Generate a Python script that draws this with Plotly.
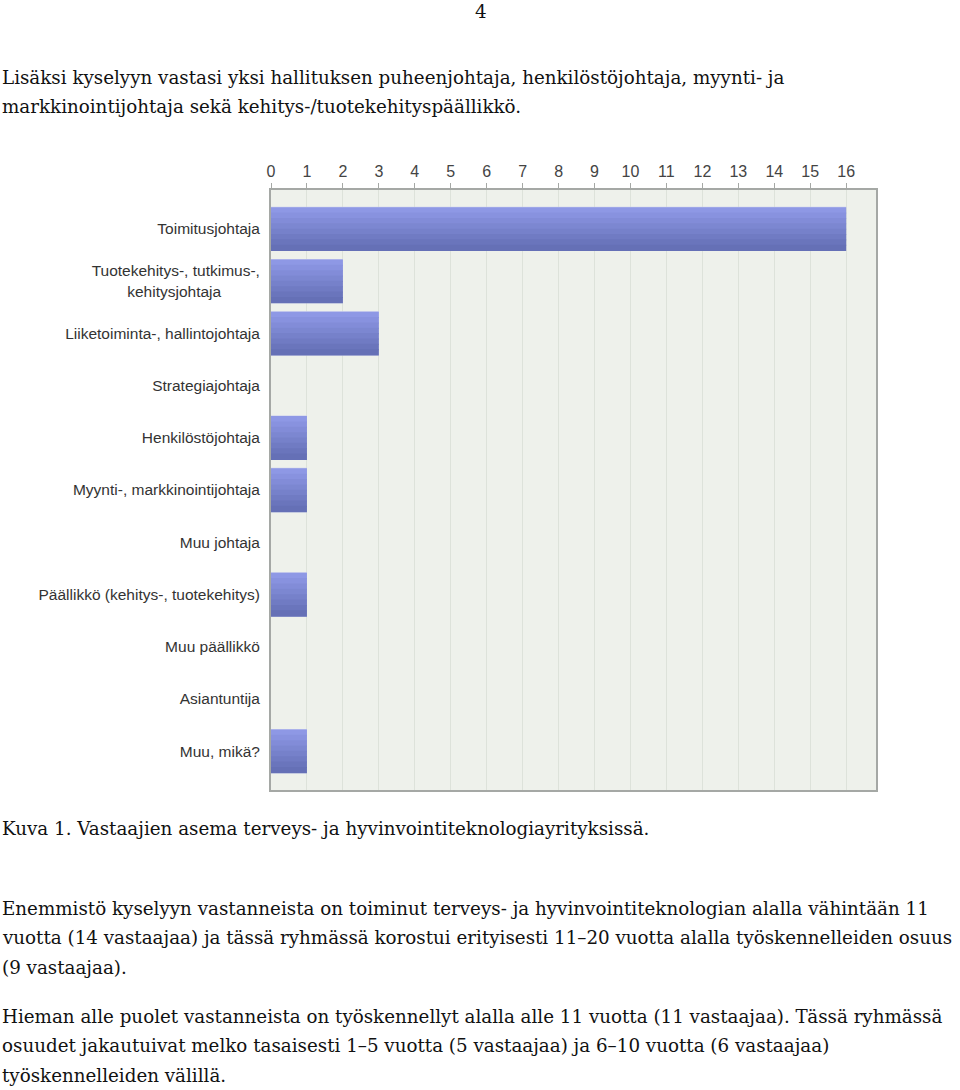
import plotly.graph_objects as go

# Kuva 1 - vastaajien asema
kategoriat = [
    "Toimitusjohtaja",
    "Tuotekehitys-, tutkimus-,<br>" + "&nbsp;" * 9 + "kehitysjohtaja" + "&nbsp;" * 9,
    "Liiketoiminta-, hallintojohtaja",
    "Strategiajohtaja",
    "Henkilöstöjohtaja",
    "Myynti-, markkinointijohtaja",
    "Muu johtaja",
    "Päällikkö (kehitys-, tuotekehitys)",
    "Muu päällikkö",
    "Asiantuntija",
    "Muu, mikä?",
]
vastaajat = [16, 2, 3, 0, 1, 1, 0, 1, 0, 0, 1]
x_ticks = list(range(0, 17))

teksti_ylä = [
    "Lisäksi kyselyyn vastasi yksi hallituksen puheenjohtaja, henkilöstöjohtaja, myynti- ja",
    "markkinointijohtaja sekä kehitys-/tuotekehityspäällikkö.",
]
kuvateksti = "Kuva 1. Vastaajien asema terveys- ja hyvinvointiteknologiayrityksissä."
teksti_ala = [
    "Enemmistö kyselyyn vastanneista on toiminut terveys- ja hyvinvointiteknologian alalla vähintään 11",
    "vuotta (14 vastaajaa) ja tässä ryhmässä korostui erityisesti 11–20 vuotta alalla työskennelleiden osuus",
    "(9 vastaajaa).",
]
teksti_ala2 = [
    "Hieman alle puolet vastanneista on työskennellyt alalla alle 11 vuotta (11 vastaajaa). Tässä ryhmässä",
    "osuudet jakautuivat melko tasaisesti 1–5 vuotta (5 vastaajaa) ja 6–10 vuotta (6 vastaajaa)",
    "työskennelleiden välillä.",
]

W, H = 960, 1090
L, R, T, B = 271, 84, 190, 300
PW, PH = W - L - R, H - T - B


def px(x):
    return (x - L) / PW


def py(y):
    return (H - B - y) / PH


yy = list(range(len(kategoriat)))
fig = go.Figure()

# gradient-like bar: stripes from light (top) to dark (bottom)
varit = ["#8e98e5", "#8892df", "#828cd8", "#7c87d1", "#7681ca", "#707bc3", "#6a75bc", "#6570b6"]
n = len(varit)
bw = 0.82
fig.add_trace(go.Bar(
    y=yy, x=vastaajat, orientation="h", width=bw + 0.03,
    marker=dict(color="#c9cdee", line=dict(width=0)), hoverinfo="skip",
))
for i, c in enumerate(varit):
    fig.add_trace(go.Bar(
        y=yy, x=vastaajat, orientation="h",
        width=bw / n + 0.02, offset=-bw / 2 + i * bw / n - 0.005,
        marker=dict(color=c, line=dict(width=0)),
    ))

fig.update_layout(
    width=W, height=H,
    margin=dict(l=L, r=R, t=T, b=B),
    paper_bgcolor="white",
    plot_bgcolor="#eef1eb",
    barmode="overlay",
    showlegend=False,
    font=dict(family="Liberation Sans, Arial, sans-serif", size=15, color="#333"),
)
fig.update_xaxes(
    side="top", range=[0, 16.83], tickvals=x_ticks,
    showgrid=True, gridcolor="#dde2da", gridwidth=1,
    showline=True, linecolor="#a5a8a5", linewidth=2, mirror=True,
    ticks="outside", ticklen=5, tickcolor="#a5a8a5",
    tickfont=dict(size=16, color="#444"), zeroline=False, fixedrange=True,
)
fig.update_yaxes(
    range=[10.745, -0.745], tickvals=yy, ticktext=kategoriat,
    showgrid=False, showline=True, linecolor="#a5a8a5", linewidth=2, mirror=True,
    ticks="", ticklabelstandoff=6, tickfont=dict(size=15.5, color="#333"),
    zeroline=False,
)

serif = dict(family="DejaVu Serif, serif", size=18.3, color="#111")
ann = []
ann.append(dict(text="4", x=px(481), y=py(11), xanchor="center", yanchor="middle"))
for i, t in enumerate(teksti_ylä):
    ann.append(dict(text=t, x=px(0), y=py(77 + i * 29.5), xanchor="left", yanchor="middle"))
ann.append(dict(text=kuvateksti, x=px(0), y=py(828), xanchor="left", yanchor="middle"))
for i, t in enumerate(teksti_ala):
    ann.append(dict(text=t, x=px(0), y=py(908 + i * 29.5), xanchor="left", yanchor="middle"))
for i, t in enumerate(teksti_ala2):
    ann.append(dict(text=t, x=px(0), y=py(1016 + i * 29.5), xanchor="left", yanchor="middle"))
for a in ann:
    a.update(xref="paper", yref="paper", showarrow=False, font=serif)
fig.update_layout(annotations=ann)

# remove the default body margin so the figure fills the page
fig.write_html("out.html", config={"displayModeBar": False},
               post_script="document.body.style.margin='0px';")
